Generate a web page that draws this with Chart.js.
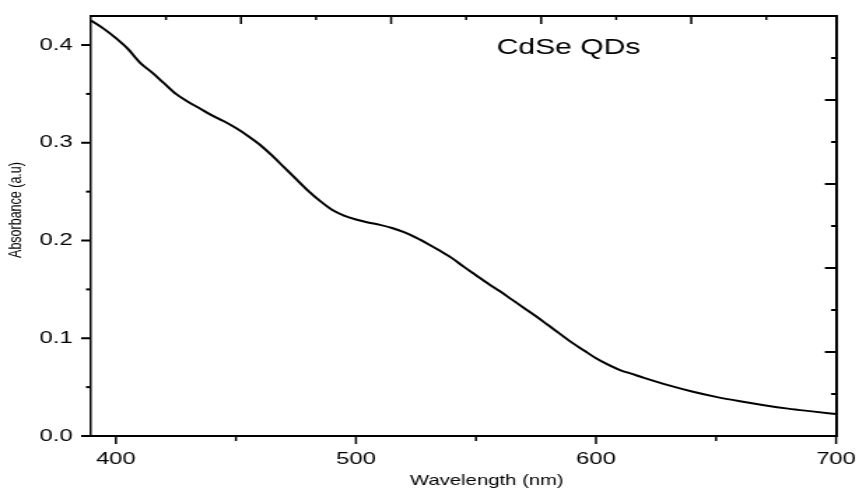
<!DOCTYPE html>
<html lang="en">
<head>
    <meta charset="UTF-8">
    <title>CdSe QDs absorbance</title>
    <script src="https://cdn.jsdelivr.net/npm/chart.js@4.4.1/dist/chart.umd.min.js"></script>
    <style>
        body { margin: 0; background: #fff; }
    </style>
</head>
<body>
    <!-- drawn narrow and stretched sideways, like the original export -->
    <canvas id="chart" width="614" height="488" style="display:block;width:859px;height:488px"></canvas>

    <script>
        // wavelength (nm) and absorbance
        const wavelength = [389.7, 395, 400, 405, 410, 415, 420, 425, 430, 435, 440, 445, 450, 455, 460, 465, 470, 475, 480, 485,
            490, 495, 500, 505, 510, 515, 520, 525, 530, 535, 540, 545, 550, 555, 560, 565, 570, 575, 580, 585,
            590, 595, 600, 605, 610, 615, 620, 630, 640, 650, 660, 670, 680, 690, 700];
        const absorbance = [0.425, 0.4165, 0.407, 0.396, 0.382, 0.372, 0.361, 0.350, 0.342, 0.335, 0.328, 0.322, 0.315, 0.307, 0.298, 0.287, 0.275, 0.263, 0.251, 0.2405,
            0.2315, 0.2255, 0.2215, 0.2185, 0.216, 0.2128, 0.2085, 0.203, 0.1965, 0.1895, 0.182, 0.173, 0.1645, 0.156, 0.148, 0.1395, 0.131, 0.1225, 0.1135, 0.1045,
            0.0955, 0.0875, 0.0795, 0.073, 0.0675, 0.0635, 0.0595, 0.052, 0.0455, 0.040, 0.0355, 0.0315, 0.028, 0.0252, 0.0225];

        const xTickLabels = ['400', '500', '600', '700'];
        const yTickLabels = ['0.0', '0.1', '0.2', '0.3', '0.4'];

        const chartTitle = 'CdSe QDs';
        const xTitle = 'Wavelength (nm)';
        const yTitle = 'Absorbance (a.u)';

        const FONT = "'Liberation Sans', Arial, sans-serif";

        function fixSize(w, h) {
            return function(scale) {
                if (w !== null) scale.width = w;
                if (h !== null) scale.height = h;
                scale.paddingTop = 0;
                scale.paddingBottom = 0;
                scale.paddingLeft = 0;
                scale.paddingRight = 0;
            };
        }

        const isMult = (v, step) => Math.abs(v / step - Math.round(v / step)) < 1e-6;

        // tick marks: outward on left/bottom, inward on top/right, long for major, short for minor
        const tickMarks = {
            id: 'tickMarks',
            afterDraw(chart) {
                const ctx = chart.ctx;
                const a = chart.chartArea;
                const s = chart.scales;
                ctx.save();
                ctx.strokeStyle = '#000';
                ctx.lineCap = 'butt';

                ctx.lineWidth = 1.5;
                s.x.ticks.forEach(t => {
                    const px = s.x.getPixelForValue(t.value);
                    const len = isMult(t.value, 100) ? 8 : 5;
                    ctx.beginPath(); ctx.moveTo(px, a.bottom); ctx.lineTo(px, a.bottom + len); ctx.stroke();
                });
                s.x2.ticks.forEach(t => {
                    if (t.value <= 0) return;
                    const px = s.x2.getPixelForValue(t.value);
                    const len = isMult(t.value, 2) ? 8 : 4;
                    ctx.beginPath(); ctx.moveTo(px, a.top); ctx.lineTo(px, a.top + len); ctx.stroke();
                });

                ctx.lineWidth = 2;
                s.y.ticks.forEach(t => {
                    const py = s.y.getPixelForValue(t.value);
                    const len = isMult(t.value, 0.1) ? 7 : 3.5;
                    ctx.beginPath(); ctx.moveTo(a.left, py); ctx.lineTo(a.left - len, py); ctx.stroke();
                });
                s.y2.ticks.forEach(t => {
                    if (t.value <= 0) return;
                    const py = s.y2.getPixelForValue(t.value);
                    const len = isMult(t.value, 1) ? 8 : 3.5;
                    ctx.beginPath(); ctx.moveTo(a.right, py); ctx.lineTo(a.right - len, py); ctx.stroke();
                });

                // chart title and axis titles
                ctx.fillStyle = '#000';
                ctx.textBaseline = 'middle';
                ctx.textAlign = 'left';
                ctx.font = '21.5px ' + FONT;
                ctx.fillText(chartTitle, 355, 48);

                ctx.textAlign = 'center';
                ctx.font = '14.5px ' + FONT;
                ctx.fillText(xTitle, 348, 481);

                ctx.translate(12, 210);
                ctx.rotate(-Math.PI / 2);
                ctx.font = '12.5px ' + FONT;
                ctx.fillText(yTitle, 0, 0);
                ctx.restore();
            }
        };

        const points = wavelength.map((w, i) => ({ x: w, y: absorbance[i] }));

        new Chart(document.getElementById('chart'), {
            type: 'line',
            data: {
                datasets: [{
                    data: points,
                    borderColor: '#000',
                    borderWidth: 2,
                    pointRadius: 0,
                    cubicInterpolationMode: 'monotone',
                    fill: false
                }]
            },
            options: {
                responsive: false,
                devicePixelRatio: 1,
                animation: false,
                layout: { padding: 0 },
                plugins: {
                    legend: { display: false },
                    tooltip: { enabled: false }
                },
                scales: {
                    x: {
                        type: 'linear',
                        position: 'bottom',
                        min: 389.6,
                        max: 700,
                        afterFit: fixSize(null, 52),
                        grid: { display: false, drawTicks: false },
                        border: { display: true, color: '#000', width: 2 },
                        ticks: {
                            stepSize: 50,
                            includeBounds: false,
                            padding: 13,
                            color: '#000',
                            font: { family: FONT, size: 17 },
                            maxRotation: 0,
                            autoSkip: false,
                            callback: v => xTickLabels.includes(String(v)) ? String(v) : ''
                        }
                    },
                    x2: {
                        type: 'linear',
                        position: 'top',
                        min: 0,
                        max: 9.93,
                        afterFit: fixSize(null, 16),
                        grid: { display: false, drawTicks: false },
                        border: { display: true, color: '#000', width: 2 },
                        ticks: { display: false, stepSize: 1, includeBounds: false }
                    },
                    y: {
                        type: 'linear',
                        position: 'left',
                        min: 0,
                        max: 0.4297,
                        afterFit: fixSize(65, null),
                        grid: { display: false, drawTicks: false },
                        border: { display: true, color: '#000', width: 1.5 },
                        ticks: {
                            stepSize: 0.05,
                            includeBounds: false,
                            padding: 13,
                            color: '#000',
                            font: { family: FONT, size: 17 },
                            autoSkip: false,
                            callback: v => {
                                const lbl = v.toFixed(1);
                                return isMult(v, 0.1) && yTickLabels.includes(lbl) ? lbl : '';
                            }
                        }
                    },
                    y2: {
                        type: 'linear',
                        position: 'right',
                        min: 0,
                        max: 5,
                        afterFit: fixSize(16.4, null),
                        grid: { display: false, drawTicks: false },
                        border: { display: true, color: '#000', width: 2 },
                        ticks: { display: false, stepSize: 0.5, includeBounds: false }
                    }
                }
            },
            plugins: [tickMarks]
        });
    </script>
</body>
</html>
